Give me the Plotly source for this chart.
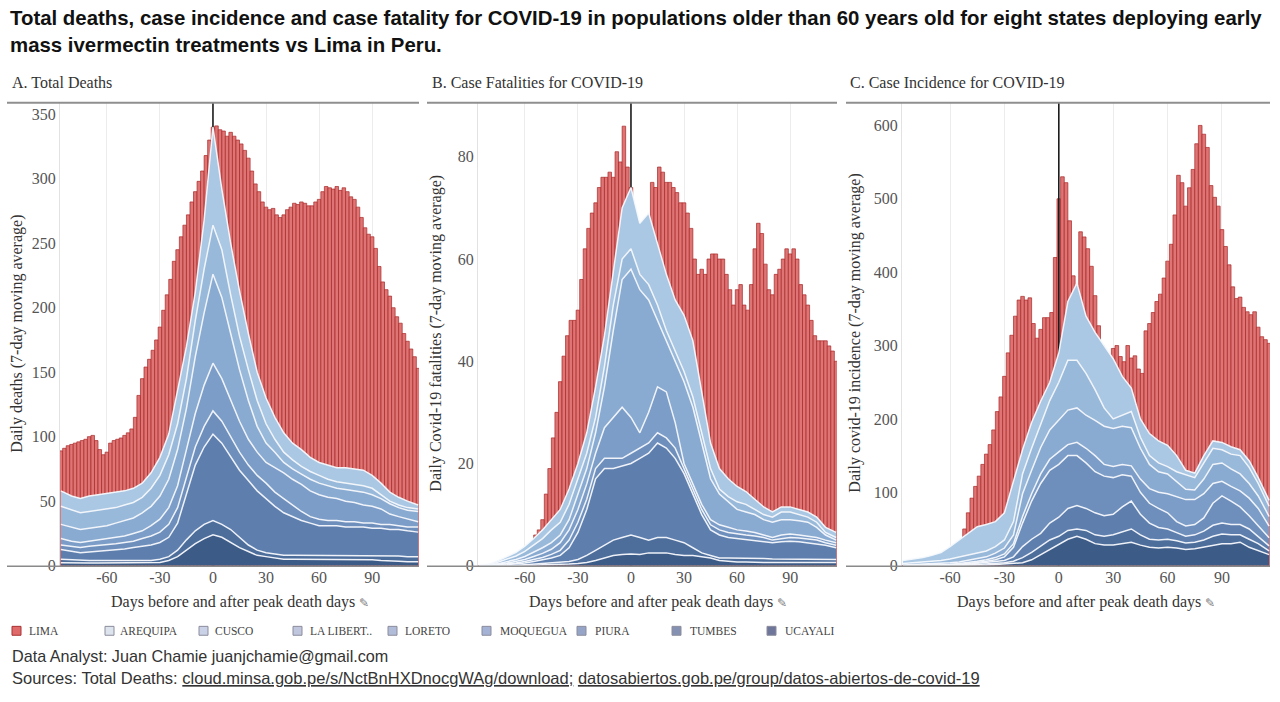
import plotly.graph_objects as go

# ---------------- data ----------------
# Lima daily values sampled every 2 days (days relative to peak death day)
LIMA_DAYS = list(range(-86, 117, 2))

LIMA_DEATHS = [89, 91, 93, 94, 95, 96, 97, 98, 100, 101,
               97, 90, 86, 88, 95, 97, 98, 99, 101, 103,
               106, 115, 132, 145, 154, 160, 167, 175, 185, 198,
               210, 222, 236, 245, 255, 264, 272, 282, 290, 298,
               306, 318, 330, 340, 341, 338, 337, 333, 336, 333,
               330, 327, 322, 316, 306, 296, 290, 282, 278, 276,
               277, 272, 270, 272, 276, 278, 281, 280, 282, 281,
               279, 279, 282, 284, 290, 294, 293, 292, 294, 291,
               293, 290, 286, 284, 278, 270, 262, 257, 255, 246,
               232, 220, 214, 209, 200, 193, 188, 180, 174, 168,
               162, 153]

LIMA_FATAL = [0, 0, 0, 0, 0, 0, 0, 0, 0, 0,
              0, 0, 0, 0, 0, 0, 6, 7, 9, 14,
              19, 25, 30, 36, 41, 45, 48, 48, 50, 56,
              62, 66, 69, 71, 74, 76, 76, 77, 76, 81,
              79, 86, 78, 74, 68, 64, 62, 64, 66, 75,
              74, 78, 77, 75, 75, 74, 73, 71, 71, 69,
              66, 60, 57, 58, 57, 60, 61, 61, 60, 60,
              57, 54, 51, 54, 55, 51, 50, 55, 62, 67,
              65, 59, 54, 53, 57, 58, 60, 62, 61, 62,
              60, 55, 53, 51, 48, 45, 44, 44, 44, 43,
              42, 40]

LIMA_INCID = [0, 0, 0, 0, 0, 0, 0, 0, 0, 0,
              0, 0, 0, 0, 0, 0, 28, 50, 72, 92,
              108, 122, 138, 152, 165, 185, 210, 230, 258, 290,
              314, 340, 362, 367, 362, 365, 330, 310, 322, 338,
              338, 345, 420, 500, 530, 522, 470, 395, 380, 455,
              448, 432, 408, 368, 327, 300, 285, 275, 296, 300,
              285, 278, 300, 283, 286, 268, 262, 320, 330, 345,
              360, 370, 392, 415, 438, 478, 532, 522, 490, 515,
              540, 575, 600, 588, 570, 518, 502, 490, 458, 435,
              410, 380, 364, 366, 352, 346, 342, 346, 325, 312,
              308, 303]

# Eight states: stacked levels (top of each state's band) every 5 days
AREA_DAYS = [-86, -80, -75, -70, -65, -60, -55, -50, -45, -40, -35, -30, -25, -20,
             -15, -10, -5, 0, 5, 10, 15, 20, 25, 30, 35, 40, 45, 50, 55, 60,
             65, 70, 75, 80, 85, 90, 95, 100, 105, 110, 116]

STATES = ["UCAYALI", "TUMBES", "PIURA", "MOQUEGUA", "LORETO", "LA LIBERTAD", "CUSCO", "AREQUIPA"]

# Panel A: total deaths (stack tops)
A_UCAYALI = [2.3, 2, 2, 2, 2, 2, 2, 2, 2, 2, 2, 2.5, 4, 7, 12, 17, 21, 24, 22, 18, 14, 11, 8, 7, 6, 5, 5, 5, 4.5, 4.5, 4.5, 4.5, 4.5, 4.5, 4.5, 4.5, 4, 4, 3.5, 3, 3]
A_TUMBES = [5, 4.5, 4, 4, 4, 4, 4, 4, 4, 4, 4, 5, 7, 12, 20, 27, 32, 35, 32, 28, 22, 16, 12, 10, 9, 8, 8, 8, 8, 8, 8, 8, 8, 8, 8, 8, 8, 8, 7.5, 7, 7]
A_PIURA = [12.5, 11, 10, 10.5, 11, 11.5, 12, 13, 14, 15, 16, 18, 22, 33, 55, 78, 92, 102, 95, 85, 74, 66, 58, 52, 46, 41, 38, 35, 33, 31, 31, 31, 30, 30, 30, 29, 29, 28, 28, 27, 26]
A_MOQUEGUA = [16, 15, 14, 15, 15.5, 16, 17, 18, 19, 21, 23, 26, 32, 45, 68, 92, 108, 120, 112, 100, 88, 78, 70, 64, 57, 52, 47, 42, 38, 36, 35, 35, 34, 34, 33, 33, 32, 32, 31, 30, 30]
A_LORETO = [21, 19, 18, 19, 20, 21, 22, 23, 25, 27, 31, 36, 45, 62, 90, 118, 140, 157, 145, 128, 112, 98, 88, 80, 76, 72, 67, 63, 58, 55, 53, 52, 50, 49, 47, 46, 44, 40, 38, 36, 34]
A_LALIBERTAD = [32, 30, 28, 29, 30, 31, 33, 35, 37, 41, 46, 54, 67, 90, 122, 162, 196, 226, 208, 180, 152, 128, 108, 95, 88, 80, 75, 71, 67, 64, 62, 60, 59, 58, 57, 55, 52, 48, 45, 43, 42]
A_CUSCO = [46, 43, 41, 42, 43, 44, 45, 47, 49, 53, 60, 70, 86, 110, 145, 190, 230, 264, 245, 210, 178, 152, 128, 110, 98, 88, 82, 77, 73, 70, 67, 65, 64, 63, 62, 60, 55, 50, 47, 45, 44]
A_AREQUIPA = [58, 54, 52, 54, 55, 56, 57, 58, 60, 64, 72, 84, 102, 135, 170, 212, 268, 340, 292, 250, 213, 180, 150, 130, 115, 103, 95, 90, 84, 80, 78, 76, 76, 75, 74, 70, 64, 57, 53, 50, 47]

# Panel B: case fatalities (stack tops)
B_UCAYALI = [0, 0, 0, 0, 0, 0.1, 0.1, 0.2, 0.2, 0.3, 0.3, 0.4, 0.6, 1, 1.5, 2, 2.2, 2.3, 2.2, 2.5, 2.5, 2.5, 2.2, 2, 2, 1.8, 1.5, 1, 0.8, 0.7, 0.7, 0.6, 0.6, 0.6, 0.6, 0.6, 0.6, 0.6, 0.6, 0.6, 0.6]
B_TUMBES = [0, 0, 0, 0.1, 0.1, 0.2, 0.3, 0.4, 0.5, 0.6, 0.8, 1.2, 2, 3, 4, 5, 5.5, 6, 5.5, 5, 5.5, 5.5, 5, 4.5, 3.5, 2.5, 2, 1.5, 1.5, 1.5, 1.5, 1.4, 1.4, 1.3, 1.3, 1.3, 1.3, 1.3, 1.3, 1.2, 1.2]
B_PIURA = [0, 0, 0.1, 0.2, 0.3, 0.5, 0.8, 1.1, 1.5, 2, 3.5, 6.5, 11, 17, 19, 19, 19.5, 20, 21, 22, 24, 23, 21, 18, 14, 10, 7, 6, 5.5, 5.3, 5.2, 5, 4.8, 4.5, 4.7, 4.8, 4.7, 4.5, 4.3, 4, 3.5]
B_MOQUEGUA = [0, 0, 0.2, 0.3, 0.5, 0.8, 1.2, 1.6, 2.2, 3, 5, 8.5, 13, 19, 21, 21, 21, 22, 23, 24, 26, 25, 23, 19, 15, 11, 8, 7, 6.5, 6.2, 6, 5.8, 5.5, 5, 5.3, 5.5, 5.4, 5.2, 5, 4.5, 4]
B_LORETO = [0, 0.1, 0.3, 0.5, 0.8, 1.2, 1.8, 2.4, 3.2, 4.5, 7, 11, 16, 22, 27, 29, 31, 29, 26, 30, 35, 34, 28, 20, 16, 12, 9, 8, 7.5, 7, 6.8, 6.5, 6, 5.5, 6, 6.2, 6, 5.8, 5.5, 5, 4.5]
B_LALIBERTAD = [0, 0.1, 0.4, 0.8, 1.2, 1.8, 2.6, 3.5, 4.5, 6, 9, 14, 19, 26, 35, 46, 56, 58, 54, 52, 48, 44, 40, 36, 31, 24, 17, 14, 12.5, 11, 10.5, 10, 9, 8.5, 9, 9, 8.8, 8.5, 7.5, 6, 5]
B_CUSCO = [0, 0.2, 0.7, 1.3, 1.9, 2.8, 4, 5.3, 7, 8.5, 12, 17, 22, 29, 39, 51, 60, 62, 57, 55, 51, 46, 42, 38, 33, 26, 19, 15, 13.5, 12.5, 12, 11, 10, 9.5, 10.5, 10.5, 10, 9.5, 8.5, 6.5, 5.5]
B_AREQUIPA = [0, 0.3, 1, 1.8, 2.6, 3.8, 5.3, 7, 9, 11, 15, 20, 26, 35, 45, 58, 70, 74, 67, 69, 63, 57, 52, 49, 44, 34, 24, 19, 17, 15.5, 14.5, 13, 11.5, 10.5, 11.5, 11.5, 11, 10.5, 9.5, 7.5, 6.5]

# Panel C: case incidence (stack tops)
C_UCAYALI = [0, 0, 0.1, 0.1, 0.1, 0.2, 0.3, 0.5, 0.8, 1, 1.5, 2, 3, 4, 8, 15, 22, 28, 36, 40, 36, 30, 28, 28, 30, 32, 28, 25, 24, 25, 24, 22, 23, 25, 28, 30, 30, 32, 25, 20, 15]
C_TUMBES = [0.1, 0.1, 0.2, 0.2, 0.3, 0.4, 0.5, 1, 1.5, 2, 3, 4, 6, 11, 18, 26, 35, 40, 48, 50, 48, 42, 40, 42, 46, 50, 42, 36, 35, 36, 34, 31, 32, 35, 40, 43, 42, 42, 36, 30, 20]
C_PIURA = [0.2, 0.3, 0.4, 0.5, 0.6, 0.8, 1, 2, 3, 4, 5, 7, 12, 26, 36, 44, 58, 66, 78, 82, 78, 72, 68, 70, 80, 88, 70, 58, 52, 50, 45, 40, 42, 47, 55, 58, 56, 56, 50, 40, 27]
C_MOQUEGUA = [0.3, 0.5, 0.6, 0.8, 1, 1.2, 2, 3, 4, 6, 8, 12, 25, 58, 88, 112, 130, 138, 150, 150, 140, 128, 122, 120, 124, 122, 100, 85, 78, 72, 60, 54, 56, 65, 85, 95, 88, 80, 68, 55, 38]
C_LORETO = [0.5, 0.8, 1, 1.2, 1.5, 2, 3, 4, 6, 8, 11, 16, 30, 67, 98, 125, 145, 155, 165, 168, 160, 150, 138, 135, 138, 136, 118, 105, 100, 98, 94, 90, 90, 98, 112, 115, 108, 102, 92, 78, 54]
C_LALIBERTAD = [1, 1.5, 2, 2.5, 3, 4, 5, 7, 10, 12, 17, 24, 42, 98, 130, 161, 185, 198, 212, 215, 205, 198, 190, 187, 190, 188, 160, 138, 128, 125, 115, 104, 103, 118, 138, 140, 132, 125, 112, 95, 67]
C_CUSCO = [3, 4, 5, 6, 7, 9, 12, 15, 18, 20, 26, 35, 60, 125, 160, 192, 225, 250, 280, 280, 262, 240, 215, 200, 205, 210, 175, 150, 140, 135, 128, 124, 120, 140, 160, 158, 152, 150, 134, 112, 81]
C_AREQUIPA = [7, 9, 11, 14, 18, 26, 35, 45, 53, 56, 60, 72, 115, 158, 195, 224, 250, 290, 360, 385, 340, 318, 300, 282, 258, 242, 200, 180, 170, 164, 150, 130, 126, 150, 170, 168, 162, 158, 143, 120, 89]

X_TICKS = [-60, -30, 0, 30, 60, 90]
X_TICKTEXT = ["-60", "-30", "0", "30", "60", "90"]
A_YTICKS = [0, 50, 100, 150, 200, 250, 300, 350]
B_YTICKS = [0, 20, 40, 60, 80]
C_YTICKS = [0, 100, 200, 300, 400, 500, 600]

# ---------------- styling ----------------
W, H = 1280, 702
SERIF = "Liberation Serif, Times New Roman, serif"
SANS = "Liberation Sans, Arial, sans-serif"
BLUES = ["#3d5b87", "#4d6d9b", "#5e7fae", "#6e8fbc", "#7c9dc7", "#8aabd1", "#99b9da", "#aac8e3"]
LEG_COLORS = ["#dde4ee", "#c9d2e6", "#bfc6de", "#b1bcd9", "#a3b2d5", "#96a4c8", "#8591b2", "#6e7699"]


def fx(px):
    return px / W


def fy(py):
    return 1 - py / H


Y_DOM = [fy(573), fy(104)]
panels = [
    dict(n="", lima=LIMA_DEATHS,
         tops=[A_UCAYALI, A_TUMBES, A_PIURA, A_MOQUEGUA, A_LORETO, A_LALIBERTAD, A_CUSCO, A_AREQUIPA],
         yr=[0, 359], yt=A_YTICKS, dom=[fx(60), fx(419)], span=(7, 419)),
    dict(n="2", lima=LIMA_FATAL,
         tops=[B_UCAYALI, B_TUMBES, B_PIURA, B_MOQUEGUA, B_LORETO, B_LALIBERTAD, B_CUSCO, B_AREQUIPA],
         yr=[0, 90.6], yt=B_YTICKS, dom=[fx(478), fx(837)], span=(427, 837)),
    dict(n="3", lima=LIMA_INCID,
         tops=[C_UCAYALI, C_TUMBES, C_PIURA, C_MOQUEGUA, C_LORETO, C_LALIBERTAD, C_CUSCO, C_AREQUIPA],
         yr=[0, 631], yt=C_YTICKS, dom=[fx(902), fx(1270)], span=(846, 1270)),
]

fig = go.Figure()
shapes = []
layout_axes = {}
for p in panels:
    xa, ya = "x" + p["n"], "y" + p["n"]
    fig.add_trace(go.Bar(x=LIMA_DAYS, y=p["lima"], width=2, xaxis=xa, yaxis=ya,
                         marker=dict(color="#de7474", line=dict(color="#a82626", width=0.7)),
                         showlegend=False, hoverinfo="skip"))
    fig.add_trace(go.Scatter(x=[0, 0], y=[0, p["yr"][1]], mode="lines", xaxis=xa, yaxis=ya,
                             line=dict(color="#1c1c1c", width=1.6), showlegend=False, hoverinfo="skip"))
    for i, (name, top) in enumerate(zip(STATES, p["tops"])):
        fig.add_trace(go.Scatter(x=AREA_DAYS, y=top, mode="lines", name=name, xaxis=xa, yaxis=ya,
                                 line=dict(color="rgba(245,249,253,0.95)", width=1.5),
                                 fill="tozeroy" if i == 0 else "tonexty", fillcolor=BLUES[i],
                                 showlegend=False, hoverinfo="skip"))
    layout_axes["xaxis" + p["n"]] = dict(
        domain=p["dom"], anchor=ya, range=[-86.5, 116.5], tickvals=X_TICKS, ticktext=X_TICKTEXT,
        showgrid=True, gridcolor="#ececec", gridwidth=1, zeroline=False, showline=False, ticks="",
        tickfont=dict(family=SERIF, size=16, color="#555555"), fixedrange=True)
    layout_axes["yaxis" + p["n"]] = dict(
        domain=Y_DOM, anchor=xa, range=p["yr"], tickvals=p["yt"], showgrid=False, zeroline=False,
        showline=True, linecolor="#e2e2e2", linewidth=1, ticks="",
        tickfont=dict(family=SERIF, size=16, color="#555555"), fixedrange=True)
    x0, x1 = p["span"]
    shapes.append(dict(type="line", xref="paper", yref="paper", x0=fx(x0), x1=fx(x1),
                       y0=fy(104), y1=fy(104), line=dict(color="#8f8f8f", width=2)))
    shapes.append(dict(type="line", xref="paper", yref="paper", x0=fx(x0), x1=fx(x1),
                       y0=fy(573.5), y1=fy(573.5), line=dict(color="#8a8a8a", width=1.5)))

ann = []
ann.append(dict(x=fx(8), y=fy(5), xref="paper", yref="paper", xanchor="left", yanchor="top", align="left",
                showarrow=False,
                text="<b>Total deaths, case incidence and case fatality for COVID-19 in populations older than 60 years old for eight states deploying early<br>mass ivermectin treatments vs Lima in Peru.</b>",
                font=dict(family=SANS, size=20.4, color="#111111")))

for x, t in [(10, "A. Total Deaths"), (430, "B. Case Fatalities for COVID-19"), (848, "C. Case Incidence for COVID-19")]:
    ann.append(dict(x=fx(x), y=fy(84), xref="paper", yref="paper", xanchor="left", yanchor="middle",
                    showarrow=False, text=t, font=dict(family=SERIF, size=16, color="#333333")))

for x, t in [(17, "Daily deaths (7-day moving average)"),
             (436, "Daily Covid-19 fatalities (7-day moving average)"),
             (855, "Daily covid-19 incidence (7-day moving average)")]:
    ann.append(dict(x=fx(x), y=fy(338), xref="paper", yref="paper", xanchor="center", yanchor="middle",
                    textangle=-90, showarrow=False, text=t, font=dict(family=SERIF, size=16, color="#333333")))

for x in [240, 658, 1086]:
    ann.append(dict(x=fx(x), y=fy(610), xref="paper", yref="paper", xanchor="center", yanchor="middle",
                    showarrow=False,
                    text="Days before and after peak death days <span style='font-size:12px;color:#777'>✎</span>",
                    font=dict(family=SERIF, size=16, color="#333333")))

# legend row
legend_items = [("LIMA", 12, 27, "#e06a6a", "#a83030")]
leg_pos = [(105, 118), (199, 213), (293, 308), (388, 403), (482, 498), (577, 593), (672, 688), (767, 783)]
leg_names = ["AREQUIPA", "CUSCO", "LA LIBERT..", "LORETO", "MOQUEGUA", "PIURA", "TUMBES", "UCAYALI"]
for (sx, tx), nm, col in zip(leg_pos, leg_names, LEG_COLORS):
    legend_items.append((nm, sx, tx, col, "#8c8c9c"))
for nm, sx, tx, col, bcol in legend_items:
    shapes.append(dict(type="rect", xref="paper", yref="paper", x0=fx(sx), x1=fx(sx + 9),
                       y0=fy(643.5), y1=fy(634.5), fillcolor=col, line=dict(color=bcol, width=1)))
    ann.append(dict(x=fx(tx), y=fy(639), xref="paper", yref="paper", xanchor="left", yanchor="middle",
                    showarrow=False, text=nm, font=dict(family=SERIF, size=11.5, color="#444444")))

ann.append(dict(x=fx(10), y=fy(665), xref="paper", yref="paper", xanchor="left", yanchor="middle",
                showarrow=False, text="Data Analyst: Juan Chamie juanjchamie@gmail.com",
                font=dict(family=SANS, size=16.2, color="#333333")))
ann.append(dict(x=fx(10), y=fy(687), xref="paper", yref="paper", xanchor="left", yanchor="middle",
                showarrow=False,
                text="Sources: Total Deaths: <u>cloud.minsa.gob.pe/s/NctBnHXDnocgWAg/download;</u> <u>datosabiertos.gob.pe/group/datos-abiertos-de-covid-19</u>",
                font=dict(family=SANS, size=16.5, color="#333333")))

fig.update_layout(width=W, height=H, margin=dict(l=0, r=0, t=0, b=0),
                  paper_bgcolor="white", plot_bgcolor="white", barmode="overlay",
                  shapes=shapes, annotations=ann, showlegend=False, **layout_axes)

fig.write_html("out.html", config={"displayModeBar": False},
               post_script="document.body.style.margin='0';")
